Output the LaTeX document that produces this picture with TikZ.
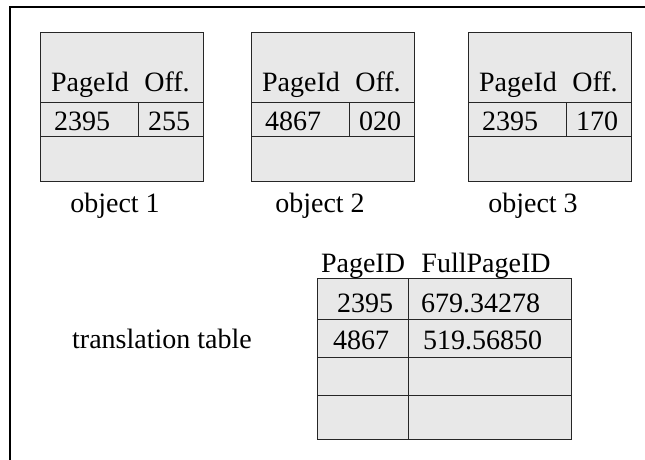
\documentclass[tikz,border=0pt]{standalone}
\usepackage{fontspec}
\setmainfont{Liberation Serif}
\begin{document}
\begin{tikzpicture}[x=1pt, y=-1pt,
  objbox/.style={draw=black!85, fill=gray!18, line width=1pt, anchor=north west, minimum width=163pt, minimum height=149pt, inner sep=0pt},
  rule/.style={draw=black!85, line width=1pt},
  txt/.style={font=\fontsize{28}{32}\selectfont, inner sep=0pt, anchor=base}]
\useasboundingbox (0,0) rectangle (645,460);
% outer frame (runs off the right and bottom edges)
\draw[line width=1.5pt] (645,7) -- (10,7) -- (10,460);
% the three objects
\foreach \n/\x/\pid/\off/\lx in {1/40/2395/255/75, 2/251/4867/020/69, 3/468/2395/170/65} {
  \node[objbox] (obj\n) at (\x,32) {};
  \draw[rule] (\x,102) -- ++(163,0) (\x,136) -- ++(163,0) (\x+98,102) -- (\x+98,136);
  \node[txt] (pgid\n) at (\x+50,92) {PageId};
  \node[txt] (off\n) at (\x+127,92) {Off.};
  \node[txt] (pid\n) at (\x+42,130) {\pid};
  \node[txt] (offv\n) at (\x+129,130) {\off};
  \node[txt] (lbl\n) at (\x+\lx,212) {object \n};
}
% translation table
\node[objbox, minimum width=254pt, minimum height=161pt] (ttab) at (317,278) {};
\draw[rule] (317,319) -- (571,319) (317,357) -- (571,357) (317,395) -- (571,395)
  (408,278) -- (408,439);
\node[txt] (hpid) at (363,272) {PageID};
\node[txt] (hfull) at (486,272) {FullPageID};
\node[txt] (tp1) at (365,312) {2395};
\node[txt, anchor=base west] (tf1) at (421,312) {679.34278};
\node[txt] (tp2) at (361,349) {4867};
\node[txt, anchor=base west] (tf2) at (423,349) {519.56850};
\node[txt] (tlbl) at (162,348) {translation table};
\end{tikzpicture}
\end{document}
